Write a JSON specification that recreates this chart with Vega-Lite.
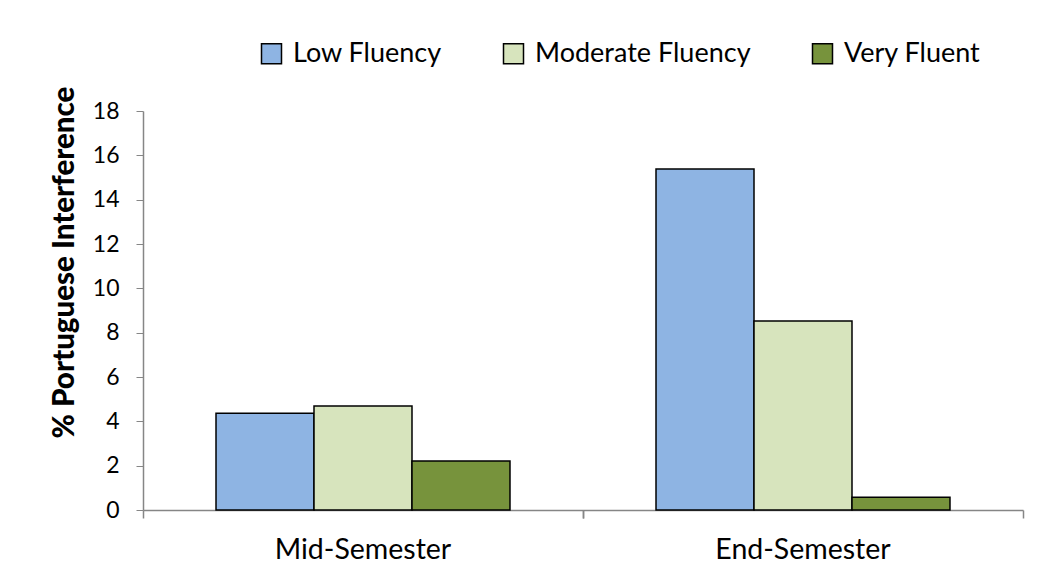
{
  "$schema": "https://vega.github.io/schema/vega-lite/v6.json",
  "autosize": "none",
  "padding": {"left": 143, "top": 111, "right": 18, "bottom": 70},
  "width": 880,
  "height": 399,
  "background": "white",
  "config": {"view": {"stroke": null}, "font": "Lato"},
  "data": {"values": [
    {"period": "Mid-Semester", "group": "Low Fluency", "value": 4.37},
    {"period": "Mid-Semester", "group": "Moderate Fluency", "value": 4.69},
    {"period": "Mid-Semester", "group": "Very Fluent", "value": 2.21},
    {"period": "End-Semester", "group": "Low Fluency", "value": 15.38},
    {"period": "End-Semester", "group": "Moderate Fluency", "value": 8.53},
    {"period": "End-Semester", "group": "Very Fluent", "value": 0.58}
  ]},
  "layer": [
    {
      "mark": {"type": "bar", "stroke": "black", "strokeWidth": 1.5},
      "encoding": {
        "x": {"field": "period", "type": "nominal", "sort": ["Mid-Semester", "End-Semester"],
          "scale": {"paddingInner": 0, "paddingOuter": 0},
          "axis": {"title": null, "labelAngle": 0, "labelFontSize": 28.5, "labelColor": "black", "labelPadding": 25,
            "ticks": false, "domainColor": "#868686", "domainWidth": 1.5}},
        "xOffset": {"field": "group", "type": "nominal", "sort": ["Low Fluency", "Moderate Fluency", "Very Fluent"],
          "scale": {"paddingInner": 0, "paddingOuter": 0.745}},
        "y": {"field": "value", "type": "quantitative",
          "scale": {"domain": [0, 18], "nice": false},
          "axis": {"title": "% Portuguese Interference", "titleFontSize": 29.5, "titleFontWeight": 900, "titleColor": "black",
            "titlePadding": 13, "titleY": 151, "values": [0, 2, 4, 6, 8, 10, 12, 14, 16, 18], "labelFontSize": 23, "labelColor": "black",
            "labelPadding": 17, "tickSize": 7, "tickColor": "#868686", "domainColor": "#868686", "domainWidth": 1.5, "grid": false}},
        "fill": {"field": "group", "type": "nominal", "sort": ["Low Fluency", "Moderate Fluency", "Very Fluent"],
          "scale": {"range": ["#8EB4E3", "#D7E4BD", "#77933C"]},
          "legend": {"title": null, "orient": "none", "legendX": 115, "legendY": -71, "direction": "horizontal",
            "symbolType": "square", "symbolSize": 400, "symbolStrokeColor": "black", "symbolStrokeWidth": 1.5,
            "labelFontSize": 27, "labelColor": "black", "labelLimit": 400, "columnPadding": 58, "labelOffset": 8}}
      }
    },
    {
      "mark": {"type": "bar", "opacity": 0},
      "encoding": {
        "x": {"field": "period", "type": "nominal", "sort": ["Mid-Semester", "End-Semester"],
          "scale": {"paddingInner": 0, "paddingOuter": 0},
          "axis": {"orient": "bottom", "title": null, "labels": false, "domain": false, "bandPosition": 0,
            "tickSize": 8, "tickColor": "#868686", "tickWidth": 1.5}},
        "y": {"field": "value", "type": "quantitative", "axis": null}
      }
    },
    {
      "mark": {"type": "bar", "opacity": 0},
      "encoding": {
        "x": {"field": "period", "type": "nominal", "sort": ["Mid-Semester", "End-Semester"],
          "scale": {"paddingInner": 0, "paddingOuter": 0},
          "axis": {"orient": "bottom", "title": null, "labels": false, "domain": false, "bandPosition": 1,
            "tickSize": 8, "tickColor": "#868686", "tickWidth": 1.5}},
        "y": {"field": "value", "type": "quantitative", "axis": null}
      }
    }
  ],
  "resolve": {"axis": {"x": "independent", "y": "independent"}}
}
